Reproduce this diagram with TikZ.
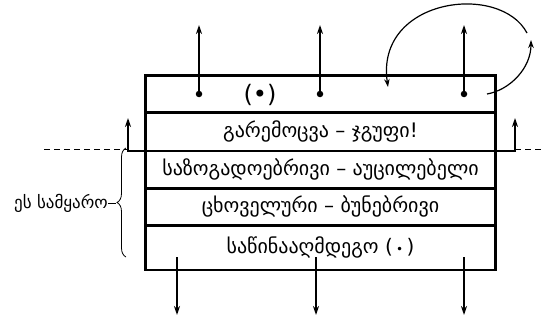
\documentclass[tikz,border=0pt]{standalone}
\usepackage{fontspec}
\newfontfamily\geofont[Script=Georgian]{DejaVu Sans}
\usetikzlibrary{arrows.meta,positioning,decorations.pathreplacing}

\tikzset{
  layer/.style={draw,line width=1.3pt,minimum width=349pt,inner sep=0pt,
    font=\geofont\fontsize{20}{22}\selectfont},
  up/.style={-{Stealth[length=9pt,width=6pt]},line width=1.6pt},
  turn/.style={-{Stealth[length=8pt,width=5.5pt]},line width=1.2pt},
  dot/.style={circle,fill,inner sep=0pt,minimum size=6.5pt},
}

\begin{document}
\begin{tikzpicture}[x=1pt,y=-1pt]
\useasboundingbox (0,0) rectangle (541,321);

\node[layer,minimum height=36pt] (top) at (320.5,94) {};
\node[layer,minimum height=37pt,below=0pt of top] (env) {გარემოცვა – ჯგუფი!};
\node[layer,minimum height=36pt,below=0pt of env] (soc) {საზოგადოებრივი – აუცილებელი};
\node[layer,minimum height=36pt,below=0pt of soc] (ani) {ცხოველური – ბუნებრივი};
\node[layer,minimum height=43pt,below=0pt of ani] (opp) {საწინააღმდეგო (\,{\fontsize{12}{12}\selectfont•}\,)};
\draw[line width=2.2pt] (top.north west) rectangle (env.south east);
\draw[line width=2.2pt] (soc.north west) rectangle (opp.south east);
\node[font=\geofont\fontsize{24}{24}\selectfont] (mark) at (260,95) {(•)};

% arrows out of the top and bottom
\foreach \x/\n in {199/a,320/b,464/c}{
  \node[dot] (d\n) at (\x,94) {};
  \coordinate (u\n) at (\x,25);
  \draw[up] (d\n.center) -- (u\n);
}
\foreach \x/\n in {177/a,316/b,464/c}{
  \coordinate (s\n) at (\x,257);
  \coordinate (e\n) at (\x,315);
  \draw[up] (s\n) -- (e\n);
}

% the border line
\coordinate (la) at (128,118);
\coordinate (ra) at (515,118);
\coordinate (dl) at (44,149);
\coordinate (dr) at (541,149);
\draw[up,line width=2.2pt] (env.south west) -| (la);
\draw[up,line width=2.2pt] (env.south east) -| (ra);
\draw[dashed,dash pattern=on 6pt off 4pt,line width=1pt] (dl) -- (dl -| la);
\draw[dashed,dash pattern=on 6pt off 4pt,line width=1pt] (dr -| ra) -- (dr);

% the loop at the right
\coordinate (c1) at (487,94);
\coordinate (c2) at (531,40);
\coordinate (c3) at (527,33);
\coordinate (c4) at (388,87);
\draw[turn] (c1) .. controls (510,90) and (531,68) .. (c2);
\draw[turn] (c3) .. controls (500,-18) and (375,-2) .. (c4);

% brace
\coordinate (bb) at (126,257);
\coordinate (bt) at (126,148);
\coordinate (tip) at (116,203);
\draw[decorate,decoration={brace,amplitude=9pt},line width=0.8pt] (bb) -- (bt);
\node[anchor=east,inner sep=0pt,font=\geofont\fontsize{17}{19}\selectfont] (world) at (108,203) {ეს სამყარო};
\draw[line width=0.8pt] (world.east) -- (tip);
\end{tikzpicture}
\end{document}
